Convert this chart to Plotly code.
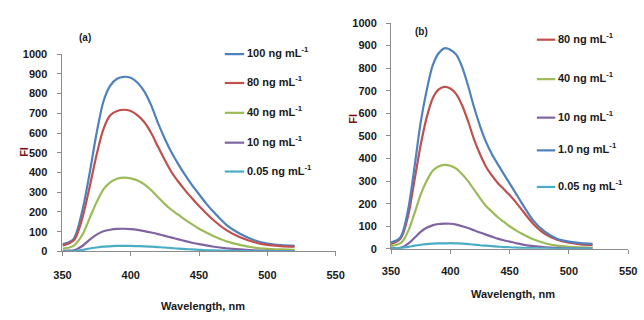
import plotly.graph_objects as go

W, H = 644, 320

# ---------------- data ----------------
wl_a = [350, 355, 358, 360, 365, 370, 375, 380, 385, 390, 395, 400, 405, 410, 415, 420, 425, 430,
        435, 440, 445, 450, 455, 460, 470, 480, 490, 500, 510, 520]
a_100 = [37, 48, 62, 90, 220, 400, 600, 760, 840, 875, 885, 880, 855, 810, 740, 650, 570, 500,
         440, 385, 335, 290, 245, 205, 135, 90, 58, 40, 32, 28]
a_80 = [30, 42, 55, 75, 180, 330, 490, 620, 690, 712, 718, 712, 690, 655, 600, 530, 462, 400,
        352, 308, 268, 230, 195, 162, 108, 72, 48, 33, 27, 24]
a_40 = [15, 20, 28, 40, 90, 170, 250, 315, 350, 368, 374, 370, 360, 340, 310, 275, 240, 210,
        185, 160, 137, 115, 97, 80, 52, 33, 20, 13, 10, 8]
a_10 = [3, 4, 6, 10, 30, 60, 85, 102, 110, 114, 115, 113, 109, 103, 96, 88, 79, 70,
        61, 52, 44, 37, 31, 25, 16, 10, 6, 3, 2, 2]
a_005 = [0, 1, 2, 3, 8, 15, 20, 24, 26, 28, 28, 28, 27, 26, 24, 22, 20, 17,
         14, 12, 10, 8, 6, 5, 3, 2, 1, 0, 0, 0]

wl_b = [350, 355, 358, 360, 365, 370, 375, 380, 385, 390, 395, 400, 405, 410, 415, 420, 425, 430,
        435, 440, 445, 450, 455, 460, 470, 480, 490, 500, 510, 520]
b_80 = [22, 32, 45, 65, 160, 310, 460, 580, 665, 705, 717, 710, 685, 635, 565, 485, 420, 365,
        325, 292, 265, 238, 208, 175, 110, 65, 40, 27, 20, 17]
b_40 = [12, 18, 25, 35, 85, 160, 240, 300, 345, 365, 372, 368, 355, 330, 300, 262, 225, 190,
        165, 140, 120, 100, 83, 68, 42, 25, 14, 9, 7, 6]
b_10 = [2, 3, 5, 8, 25, 50, 75, 93, 104, 110, 112, 111, 107, 100, 92, 82, 72, 63,
        54, 45, 38, 32, 26, 20, 12, 7, 4, 2, 1, 1]
b_1 = [28, 38, 52, 75, 190, 370, 560, 700, 810, 865, 888, 882, 860, 805, 722, 628, 545, 475,
       420, 375, 332, 290, 248, 205, 125, 75, 45, 32, 25, 22]
b_005 = [2, 3, 4, 5, 9, 14, 18, 21, 23, 24, 24, 25, 24, 23, 21, 19, 16, 14,
         12, 10, 8, 7, 5, 4, 3, 2, 1, 1, 1, 1]

labels_a = ["100", "80", "40", "10", "0.05"]
labels_b = ["80", "40", "10", "1.0", "0.05"]
x_ticks = [350, 400, 450, 500, 550]
y_ticks = list(range(0, 1001, 100))

BLUE, RED, GREEN, PURPLE, CYAN = "#4F81BD", "#C0504D", "#9BBB59", "#8064A2", "#4BACC6"
colors_a = [BLUE, RED, GREEN, PURPLE, CYAN]
colors_b = [RED, GREEN, PURPLE, BLUE, CYAN]

FONT = "Liberation Sans, Arial, sans-serif"
AX = "#8c8c8c"
LW = 2.2

fig = go.Figure()
for ys, c in zip([a_100, a_80, a_40, a_10, a_005], colors_a):
    fig.add_trace(go.Scatter(x=wl_a, y=ys, mode="lines",
                             line=dict(color=c, width=LW, shape="spline", smoothing=0.8),
                             xaxis="x", yaxis="y", showlegend=False))
for ys, c in zip([b_80, b_40, b_10, b_1, b_005], colors_b):
    fig.add_trace(go.Scatter(x=wl_b, y=ys, mode="lines",
                             line=dict(color=c, width=LW, shape="spline", smoothing=0.8),
                             xaxis="x2", yaxis="y2", showlegend=False))


def px_x(p):
    return p / W


def px_y(p):
    return 1 - p / H


tickfont = dict(family=FONT, size=11, color="#1a1a1a", weight="bold")
axis_common = dict(showline=True, linecolor=AX, linewidth=1, ticks="outside", ticklen=4, tickcolor=AX,
                   showgrid=False, zeroline=False, tickfont=tickfont)

fig.update_layout(
    width=W, height=H, margin=dict(l=0, r=0, t=0, b=0),
    paper_bgcolor="white", plot_bgcolor="white",
    xaxis=dict(domain=[px_x(55), px_x(336)], range=[350, 550], tickvals=x_ticks, anchor="y",
               ticklabelstandoff=9, **axis_common),
    yaxis=dict(domain=[px_y(255), px_y(50)], range=[0, 1000], tickvals=y_ticks, anchor="x",
               ticklabelstandoff=8, **axis_common),
    xaxis2=dict(domain=[px_x(393), px_x(637)], range=[350, 550], tickvals=x_ticks, anchor="y2",
                ticklabelstandoff=8, **axis_common),
    yaxis2=dict(domain=[px_y(252.3), px_y(17.7)], range=[0, 1000], tickvals=y_ticks, anchor="x2",
                ticklabelstandoff=7, **axis_common),
)

ann = []
shapes = []
tf = dict(family=FONT, size=11, color="#1a1a1a", weight="bold")


def add_text(x, y, text, font, xanchor="center", angle=0):
    ann.append(dict(x=px_x(x), y=px_y(y), text=text, showarrow=False, xref="paper", yref="paper",
                    xanchor=xanchor, yanchor="middle", textangle=angle, font=font))


add_text(200, 312, "Wavelength, nm", tf)
add_text(519, 299, "Wavelength, nm", tf)
fi_font = dict(family=FONT, size=11, color="#7a1010", weight="bold")
add_text(16, 152, "FI", fi_font, angle=-90)
add_text(354, 117, "FI", fi_font, angle=-90)
add_text(78, 33, "(a)", dict(family=FONT, size=10, color="#1a1a1a", weight="bold"))
add_text(424, 26, "(b)", dict(family=FONT, size=10, color="#1a1a1a", weight="bold"))

# legends
leg_a_y = [50, 80, 111, 142, 172]
leg_b_y = [35, 76, 116, 150, 188]
for lab, c, yy in zip(labels_a, colors_a, leg_a_y):
    shapes.append(dict(type="line", xref="paper", yref="paper", x0=px_x(222), x1=px_x(242),
                       y0=px_y(yy), y1=px_y(yy), line=dict(color=c, width=LW)))
    add_text(243, yy - 2, f"{lab} ng mL<sup>-1</sup>", tf, xanchor="left")
for lab, c, yy in zip(labels_b, colors_b, leg_b_y):
    shapes.append(dict(type="line", xref="paper", yref="paper", x0=px_x(543), x1=px_x(562),
                       y0=px_y(yy), y1=px_y(yy), line=dict(color=c, width=LW)))
    add_text(563, yy - 2, f"{lab} ng mL<sup>-1</sup>", tf, xanchor="left")

fig.update_layout(annotations=ann, shapes=shapes)
fig.write_html("out.html")
